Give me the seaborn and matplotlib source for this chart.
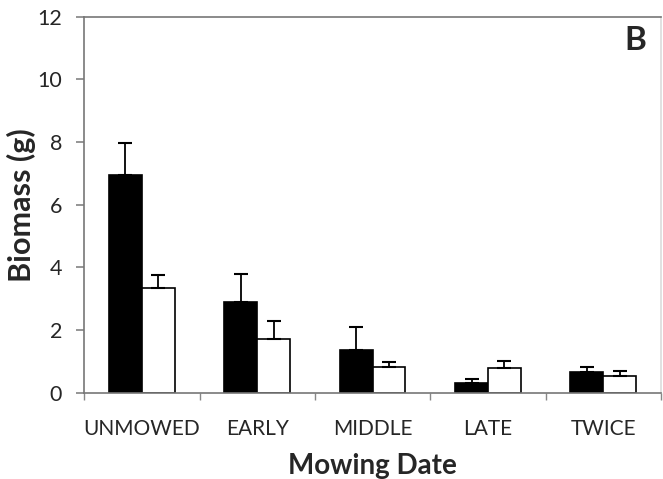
import matplotlib
matplotlib.use("Agg")
import matplotlib.pyplot as plt
import seaborn as sns
import pandas as pd
import numpy as np

# Dados
categorias = ["UNMOWED", "EARLY", "MIDDLE", "LATE", "TWICE"]
grupos = ["A", "B"]
media_preto = [6.95, 2.90, 1.35, 0.32, 0.65]
media_branco = [3.35, 1.72, 0.82, 0.80, 0.55]
erro_preto = [1.03, 0.90, 0.75, 0.13, 0.18]
erro_branco = [0.40, 0.58, 0.15, 0.22, 0.15]

sns.set_theme(style="white")
plt.rcParams["font.family"] = ["Lato", "DejaVu Sans"]

df = pd.DataFrame({
    "Mowing": categorias * 2,
    "Grupo": [grupos[0]] * 5 + [grupos[1]] * 5,
    "Biomassa": media_preto + media_branco,
    "Erro": erro_preto + erro_branco,
})

fig = plt.figure(figsize=(6.63, 4.79), dpi=100)
ax = fig.add_axes([0.127, 0.18, 0.87, 0.785])

sns.barplot(
    data=df, x="Mowing", y="Biomassa", hue="Grupo",
    order=categorias, hue_order=grupos,
    palette=["black", "white"], edgecolor="black", linewidth=1.2,
    width=0.57, gap=0, errorbar=None, legend=False, ax=ax,
)

# Barras de erro só para cima
for patch, (_, linha) in zip(ax.patches, df.iterrows()):
    cx = patch.get_x() + patch.get_width() / 2
    h = patch.get_height()
    ax.errorbar(cx, h, yerr=[[0], [linha["Erro"]]], fmt="none",
                ecolor="black", elinewidth=1.3, capsize=5, capthick=1.5)

ax.set_ylim(0, 12)
ax.set_yticks(range(0, 13, 2))
ax.set_xlim(-0.5, 4.5)
ax.set_xticks(np.arange(-0.5, 5, 1), minor=True)
ax.tick_params(axis="x", which="major", length=0, pad=19, labelsize=15)
ax.tick_params(axis="x", which="minor", length=5, color="#888888", direction="out", bottom=True)
ax.tick_params(axis="y", length=6, color="#888888", direction="out", left=True,
               labelsize=15.5, pad=10)

for s in ["left", "bottom", "top"]:
    ax.spines[s].set_color("#777777")
    ax.spines[s].set_linewidth(1.2)
ax.spines["right"].set_color("#dddddd")

ax.set_xlabel("Mowing Date", fontsize=20, fontweight="bold", labelpad=10)
ax.set_ylabel("Biomass (g)", fontsize=22, fontweight="bold", labelpad=1)
ax.text(0.955, 0.936, "B", transform=ax.transAxes, fontsize=24,
        fontweight="bold", ha="center", va="center")

fig.savefig("out.png", dpi=100)
